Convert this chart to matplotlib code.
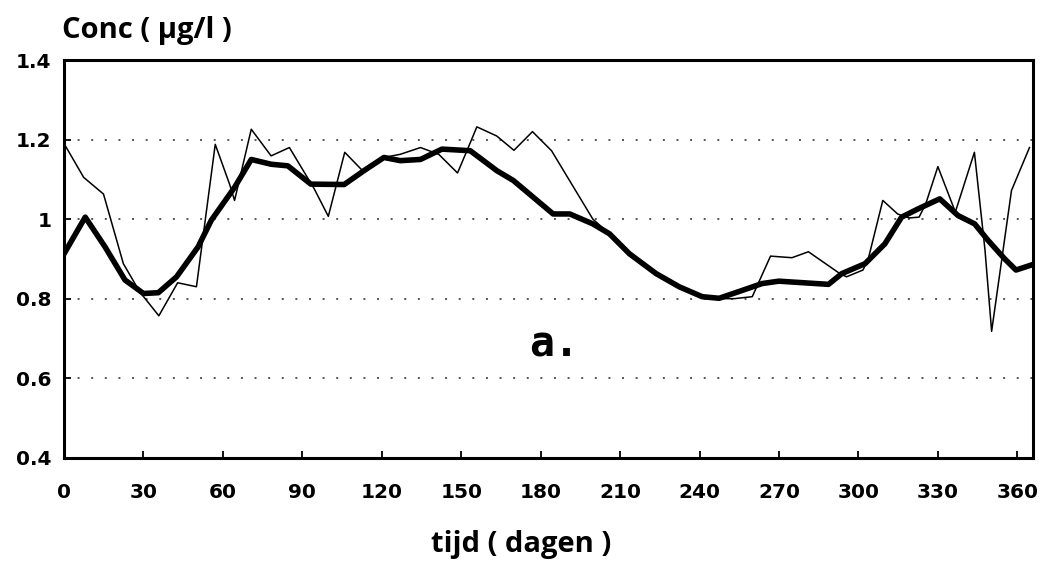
import matplotlib
matplotlib.use("Agg")
import matplotlib.pyplot as plt

# gemeten concentratie (dunne lijn)
meas_days = [0, 7.4, 14.9, 22.4, 28.6, 35.8, 42.9, 50, 57.1, 62.5, 64.4, 70.7,
             78.2, 85.1, 94.5, 99.8, 106, 112.7, 120.8, 127, 134.6, 141.5,
             148.6, 152.4, 155.9, 163.4, 169.9, 176.9, 184.1, 199.7, 206,
             213.5, 223.6, 232.3, 241, 247.4, 253, 259.9, 266.8, 274.9, 281.1,
             293, 295.5, 301.7, 303.6, 309.2, 314.8, 319.2, 322.9, 325.4, 330,
             336.6, 343.8, 347.8, 350.3, 357.8, 364.6]
meas_conc = [1.19, 1.105, 1.063, 0.888, 0.817, 0.757, 0.84, 0.83, 1.188, 1.088,
             1.047, 1.226, 1.159, 1.18, 1.076, 1.007, 1.168, 1.122, 1.155,
             1.163, 1.18, 1.163, 1.116, 1.176, 1.232, 1.209, 1.173, 1.22,
             1.172, 1.0, 0.963, 0.913, 0.863, 0.83, 0.805, 0.80, 0.80, 0.805,
             0.907, 0.903, 0.918, 0.863, 0.855, 0.872, 0.897, 1.047, 1.013,
             1.003, 1.005, 1.038, 1.132, 1.018, 1.168, 0.922, 0.718, 1.072,
             1.18]

# gladgestreken verloop (dikke lijn)
smooth_days = [0, 8, 15.5, 23, 30, 35.6, 42.5, 50.6, 55.6, 64.4, 70.7, 78.2,
               84.5, 93.2, 105.8, 113.3, 120.8, 127, 134.6, 142.7, 153.4,
               163.4, 169.7, 177.2, 184.7, 191, 199.7, 206, 213.5, 223.6,
               232.3, 241, 247.4, 254.9, 263.6, 269.9, 288.7, 293.7, 302.5,
               310, 316.3, 322.6, 330.7, 337.6, 343.9, 348.9, 355.1, 359.5, 365]
smooth_conc = [0.913, 1.005, 0.93, 0.847, 0.813, 0.815, 0.855, 0.93, 0.997,
               1.08, 1.15, 1.138, 1.134, 1.088, 1.087, 1.122, 1.155, 1.147,
               1.15, 1.176, 1.172, 1.122, 1.097, 1.055, 1.013, 1.013, 0.988,
               0.963, 0.913, 0.863, 0.83, 0.805, 0.801, 0.818, 0.838, 0.844,
               0.836, 0.863, 0.888, 0.938, 1.005, 1.026, 1.051, 1.009, 0.988,
               0.947, 0.901, 0.872, 0.884]

x_ticks = list(range(0, 361, 30))
y_ticks = [0.4, 0.6, 0.8, 1.0, 1.2, 1.4]
y_tick_labels = ["0.4", "0.6", "0.8", "1", "1.2", "1.4"]
grid_levels = [0.6, 0.8, 1.0, 1.2]

fig = plt.figure(figsize=(10.5, 5.61), dpi=100)
ax = fig.add_axes([0.061, 0.184, 0.923, 0.709])

for g in grid_levels:
    ax.axhline(g, color="#555555", lw=1.4, ls=(0, (1, 6)), zorder=1)

ax.plot(meas_days, meas_conc, color="black", lw=1.1, zorder=3)
ax.plot(smooth_days, smooth_conc, color="black", lw=4.0, zorder=2,
        solid_joinstyle="round")

ax.set_xlim(0, 366)
ax.set_ylim(0.4, 1.4)
ax.set_xticks(x_ticks)
ax.set_yticks(y_ticks)
ax.set_yticklabels(y_tick_labels)
ax.tick_params(direction="in", length=5, width=1.3, color="black")
ax.tick_params(axis="x", pad=18)
ax.tick_params(axis="y", pad=9)
for lab in ax.get_xticklabels() + ax.get_yticklabels():
    lab.set_fontfamily("DejaVu Sans")
    lab.set_fontweight("bold")
    lab.set_fontsize(14.5)

for s in ax.spines.values():
    s.set_linewidth(2.2)

ax.text(185, 0.684, "a.", ha="center", va="center", fontsize=30,
        fontweight="bold", family="DejaVu Sans Mono")

fig.text(0.059, 0.945, "Conc ( \u00b5g/l )", ha="left", va="center",
         fontsize=21, fontweight="bold", family="Open Sans")
fig.text(0.496, 0.03, "tijd ( dagen )", ha="center", va="center",
         fontsize=21, fontweight="bold", family="Open Sans")

fig.savefig("out.png", dpi=100)
